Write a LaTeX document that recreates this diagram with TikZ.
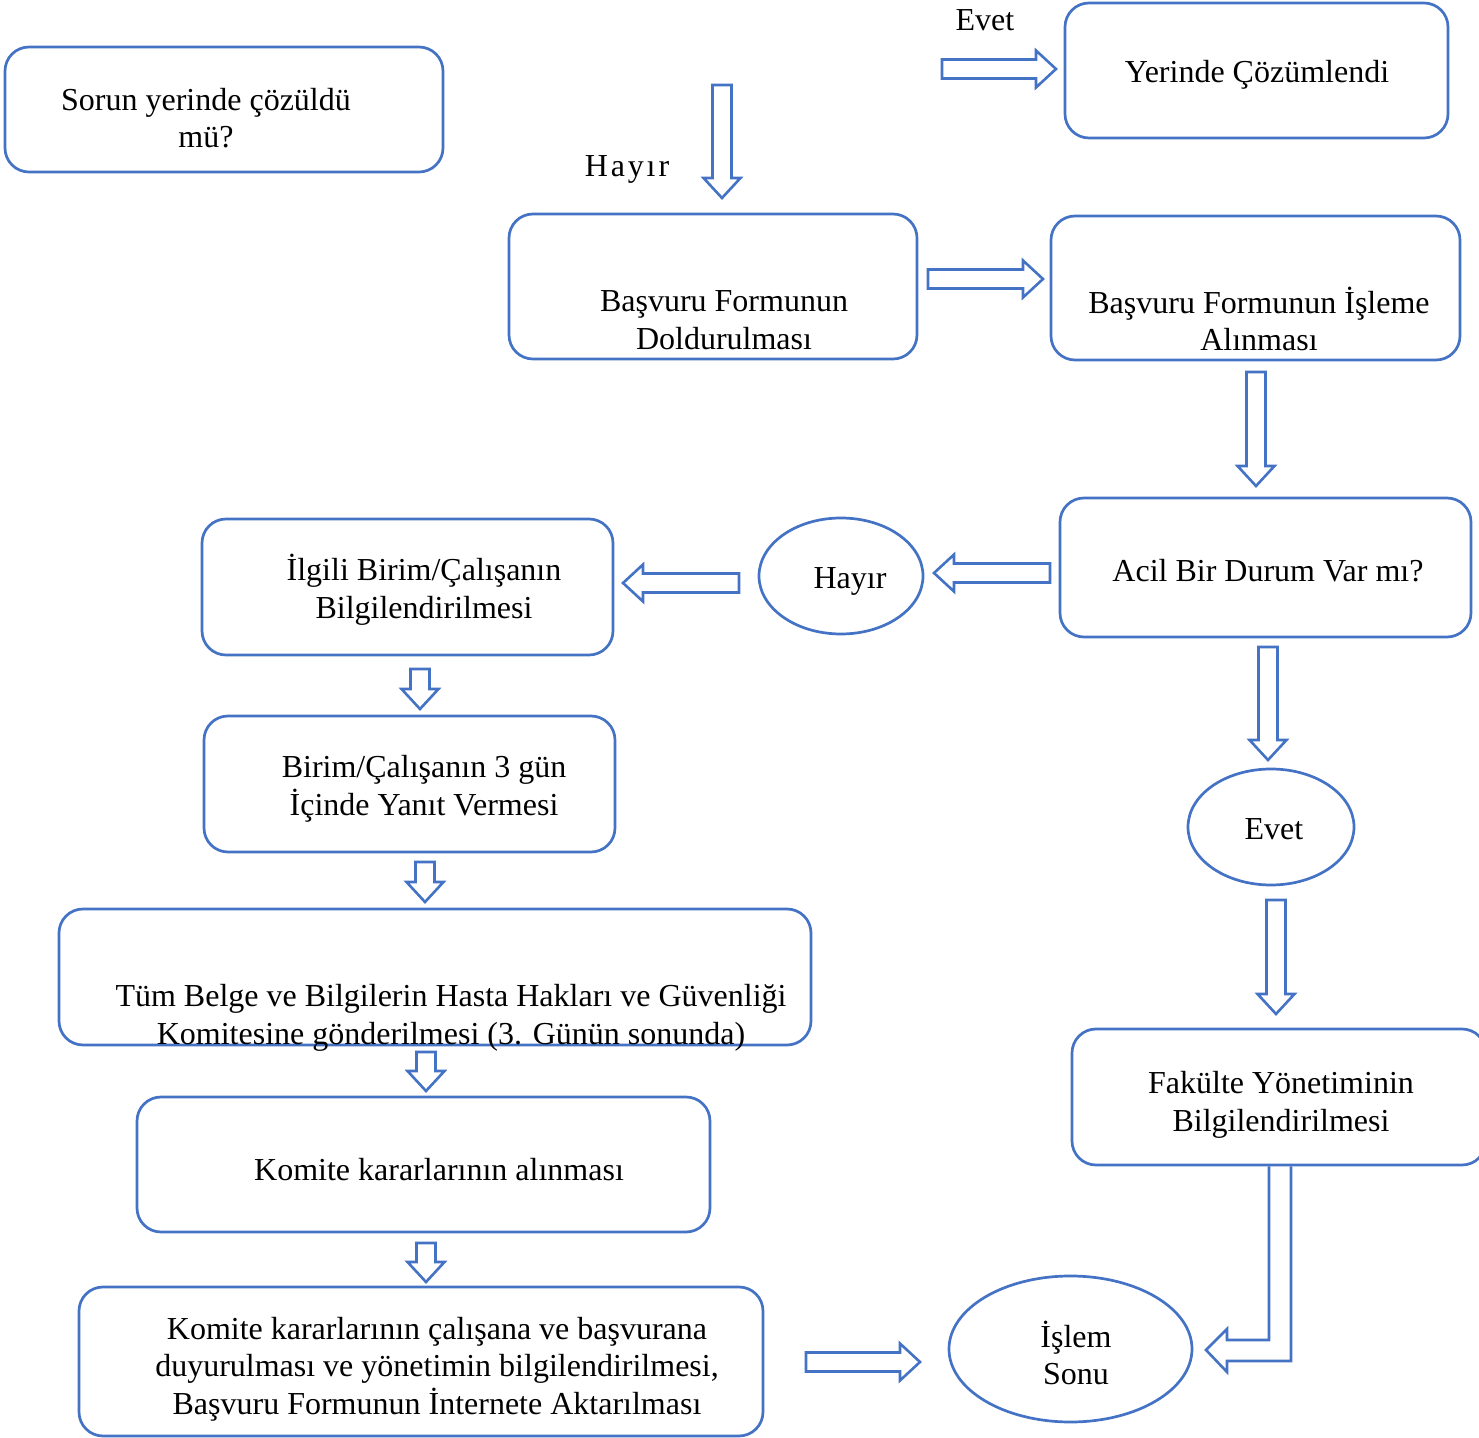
\documentclass[tikz,border=0pt]{standalone}
\usepackage{fontspec}
\setmainfont{Liberation Serif}
\usetikzlibrary{shapes.geometric}
\definecolor{obl}{HTML}{4472C4}
\tikzset{
  box/.style={draw=obl, line width=1.35pt, rounded corners=12pt, inner sep=0pt},
  oval/.style={draw=obl, line width=1.35pt, ellipse, inner sep=0pt},
  txt/.style={align=center, font=\fontsize{16}{18.8}\selectfont, inner sep=0pt},
  arr/.style={draw=obl, line width=1.3pt, fill=white, line join=miter},
}
% box from (x1,y1) to (x2,y2) in pixel units
\newcommand{\boxat}[5]{\node[box, minimum width={(#4-#2)*0.5pt}, minimum height={(#5-#3)*0.5pt}] (#1) at ({(#2+#4)/2},{(#3+#5)/2}) {};}
\newcommand{\ovalat}[5]{\node[oval, minimum width={(#4-#2)*0.5pt}, minimum height={(#5-#3)*0.5pt}] (#1) at ({(#2+#4)/2},{(#3+#5)/2}) {};}
% block arrow: tail point, angle, length
\newcommand{\blockarr}[3]{\draw[arr, shift={#1}, rotate=#2] (0,-9.5) -- (#3-20,-9.5) -- (#3-20,-18.5) -- (#3,0) -- (#3-20,18.5) -- (#3-20,9.5) -- (0,9.5) -- cycle;}
\begin{document}
\begin{tikzpicture}[x=0.5pt, y=-0.5pt]
\useasboundingbox (0,0) rectangle (1479,1438);

% boxes
\boxat{sorun}{5}{47}{443}{172}
\boxat{yerinde}{1065}{3}{1448}{138}
\boxat{doldur}{509}{214}{917}{359}
\boxat{isleme}{1051}{216}{1460}{360}
\boxat{acil}{1060}{498}{1471}{637}
\boxat{ilgili}{202}{519}{613}{655}
\boxat{yanit}{204}{716}{615}{852}
\boxat{tum}{59}{909}{811}{1045}
\boxat{karar}{137}{1097}{710}{1232}
\boxat{duyuru}{79}{1287}{763}{1436}
\boxat{fakulte}{1072}{1029}{1486}{1165}

% ellipses
\ovalat{hayir}{759}{518}{923}{634}
\ovalat{evet}{1188}{769}{1354}{885}
\ovalat{son}{949}{1276}{1192}{1422}

% texts
\node[txt] (tsorun) at (206,118) {Sorun yerinde çözüldü\\mü?};
\node[txt] (tyerinde) at (1257,75) {Yerinde Çözümlendi};
\node[txt] (levet) at (985,20) {Evet};
\node[txt, font=\fontsize{16}{18.8}\selectfont\addfontfeatures{LetterSpace=9}] (lhayir) at (627,169) {Hayır};
\node[txt] (tdoldur) at (724,320) {Başvuru Formunun\\Doldurulması};
\node[txt] (tisleme) at (1259,319) {Başvuru Formunun İşleme\\Alınması};
\node[txt] (tacil) at (1268,571) {Acil Bir Durum Var mı?};
\node[txt] (thayir) at (850,581) {Hayır};
\node[txt] (tilgili) at (424,590) {İlgili Birim/Çalışanın\\Bilgilendirilmesi};
\node[txt] (tyanit) at (424,789) {Birim/Çalışanın 3 gün\\İçinde Yanıt Vermesi};
\node[txt] (ttum) at (451,1018) {Tüm Belge ve Bilgilerin Hasta Hakları ve Güvenliği\\Komitesine gönderilmesi (3. Günün sonunda)};
\node[txt] (tkarar) at (439,1170) {Komite kararlarının alınması};
\node[txt] (tduyuru) at (437,1369) {Komite kararlarının çalışana ve başvurana\\duyurulması ve yönetimin bilgilendirilmesi,\\Başvuru Formunun İnternete Aktarılması};
\node[txt] (tevet) at (1274,829) {Evet};
\node[txt] (tfakulte) at (1281,1105) {Fakülte Yönetiminin\\Bilgilendirilmesi};
\node[txt] (tson) at (1076,1353) {İşlem\\Sonu};

% block arrows
\blockarr{(942,69)}{0}{114}
\blockarr{(722,85)}{-90}{113}
\blockarr{(928,279)}{0}{115}
\blockarr{(1256,372)}{-90}{114}
\blockarr{(1050,573)}{180}{116}
\blockarr{(739,583)}{180}{116}
\blockarr{(1268,647)}{-90}{113}
\blockarr{(1276,900)}{-90}{114}
\blockarr{(420,669)}{-90}{40}
\blockarr{(425,862)}{-90}{40}
\blockarr{(426,1052)}{-90}{39}
\blockarr{(426,1243)}{-90}{39}
\blockarr{(806,1362)}{0}{114}

% bent arrow from Fakulte box to Islem Sonu
\draw[arr, fill=none] (1269,0 |- fakulte.south) -- (1269,1340) -- (1227,1340) -- (1227,1329) -- (1206,1350) -- (1227,1372) -- (1227,1361) -- (1291,1361) -- (1291,0 |- fakulte.south);
\end{tikzpicture}
\end{document}
